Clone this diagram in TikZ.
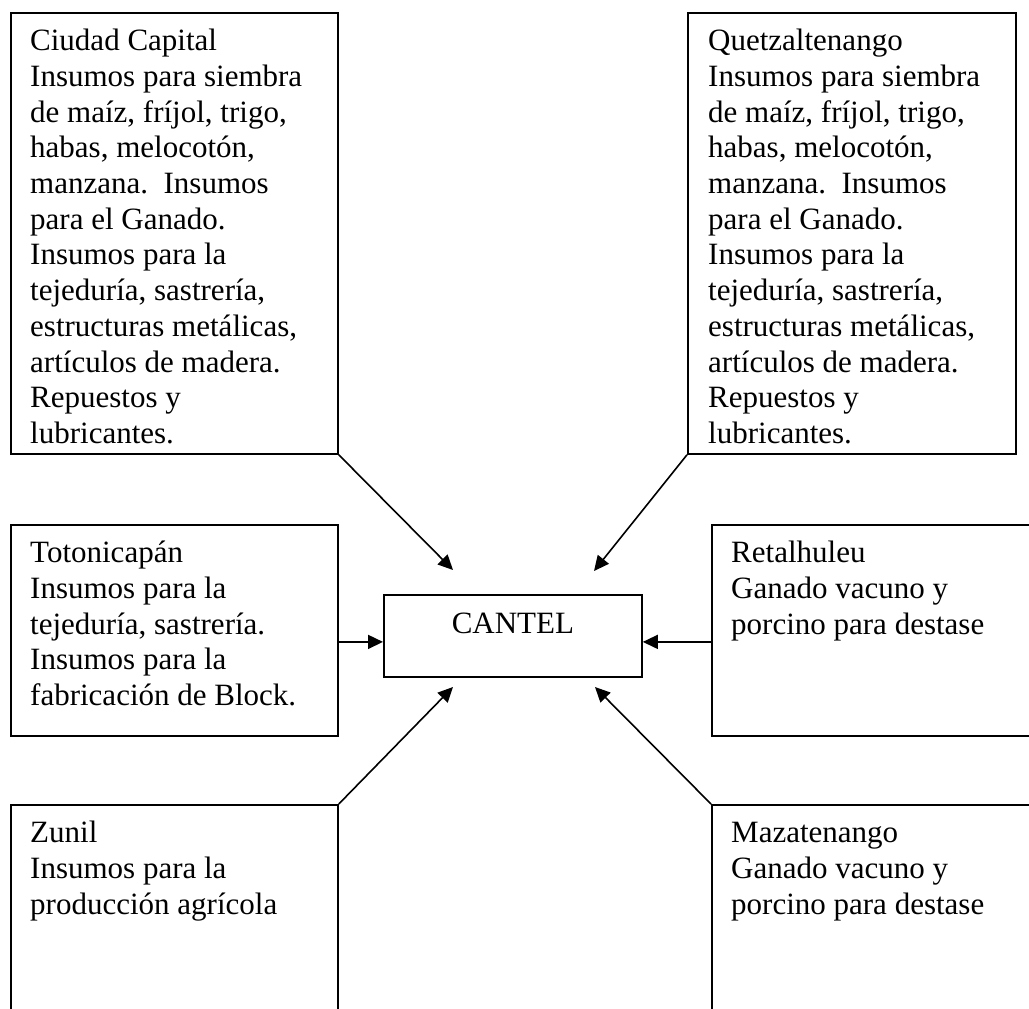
\documentclass[tikz,border=0pt]{standalone}
\usepackage{fontspec}
\setmainfont{Liberation Serif}
\usetikzlibrary{arrows.meta}
\begin{document}
\begin{tikzpicture}[x=1pt,y=-1pt,
  boxframe/.style={draw=black, line width=1.8pt, inner sep=0pt, anchor=north west},
  boxtext/.style={font=\fontsize{31}{35.7}\selectfont, align=left, inner sep=0pt, anchor=north west},
  conn/.style={line width=1.6pt, -{Triangle[length=15pt,width=14pt]}}]
\useasboundingbox (0,0) rectangle (1029,1009);
\clip (0,0) rectangle (1029,1009);
\fill[white] (0,0) rectangle (1029,1009);
% frames
\node[boxframe, minimum width=327pt, minimum height=441pt] (ciudad) at (10,12) {};
\node[boxframe, minimum width=328pt, minimum height=441pt] (quetz) at (687,12) {};
\node[boxframe, minimum width=327pt, minimum height=211pt] (toto) at (10,524) {};
\node[boxframe, minimum width=258pt, minimum height=82pt] (cantel) at (383,594) {};
\node[boxframe, minimum width=340pt, minimum height=211pt] (retal) at (711,524) {};
\node[boxframe, minimum width=327pt, minimum height=240pt] (zunil) at (10,804) {};
\node[boxframe, minimum width=340pt, minimum height=240pt] (maza) at (711,804) {};
% texts
\node[boxtext] (ciudadtxt) at ([shift={(20,13.5)}]ciudad.north west) {\rule{0pt}{25pt}Ciudad Capital\\Insumos para siembra\\de maíz, fríjol, trigo,\\habas, melocotón,\\manzana.\ \ Insumos\\para el Ganado.\\Insumos para la\\tejeduría, sastrería,\\estructuras metálicas,\\artículos de madera.\\Repuestos y\\lubricantes.};
\node[boxtext] (quetztxt) at ([shift={(21,13.5)}]quetz.north west) {\rule{0pt}{25pt}Quetzaltenango\\Insumos para siembra\\de maíz, fríjol, trigo,\\habas, melocotón,\\manzana.\ \ Insumos\\para el Ganado.\\Insumos para la\\tejeduría, sastrería,\\estructuras metálicas,\\artículos de madera.\\Repuestos y\\lubricantes.};
\node[boxtext] (tototxt) at ([shift={(20,13.5)}]toto.north west) {\rule{0pt}{25pt}Totonicapán\\Insumos para la\\tejeduría, sastrería.\\Insumos para la\\fabricación de Block.};
\node[boxtext] (retaltxt) at ([shift={(20,13.5)}]retal.north west) {\rule{0pt}{25pt}Retalhuleu\\Ganado vacuno y\\porcino para destase};
\node[boxtext] (zuniltxt) at ([shift={(20,13.5)}]zunil.north west) {\rule{0pt}{25pt}Zunil\\Insumos para la\\producción agrícola};
\node[boxtext] (mazatxt) at ([shift={(20,13.5)}]maza.north west) {\rule{0pt}{25pt}Mazatenango\\Ganado vacuno y\\porcino para destase};
\node[font=\fontsize{31}{35.7}\selectfont, inner sep=0pt, anchor=base] (canteltxt) at ([shift={(0,39)}]cantel.north) {CANTEL};
% arrow tips
\coordinate (tipA) at (453,570);
\coordinate (tipB) at (594,571);
\coordinate (tipC) at (453,687);
\coordinate (tipD) at (595,687);
% connectors
\draw[conn] (ciudad.south east) -- (tipA);
\draw[conn] (quetz.south west) -- (tipB);
\draw[conn] ([shift={(0,11.5)}]toto.east) -- ([shift={(0,6)}]cantel.west);
\draw[conn] ([shift={(0,11.5)}]retal.west) -- ([shift={(0,6)}]cantel.east);
\draw[conn] (zunil.north east) -- (tipC);
\draw[conn] (maza.north west) -- (tipD);
\end{tikzpicture}
\end{document}
